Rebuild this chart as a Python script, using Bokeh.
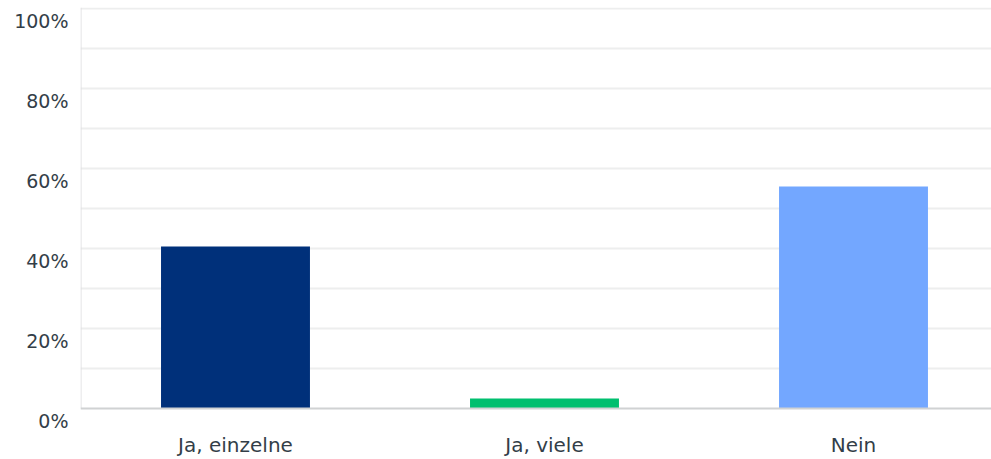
from bokeh.plotting import figure
from bokeh.models import Range1d, FixedTicker, ColumnDataSource, LinearAxis, Span
from bokeh.embed import file_html
from bokeh.resources import INLINE

categories = ["Ja, einzelne", "Ja, viele", "Nein"]
values = [40.5, 2.5, 55.5]
colors = ["#00307A", "#00BF6F", "#73A7FF"]
y_ticks = [0, 20, 40, 60, 80, 100]
y_tick_labels = ["0%", "20%", "40%", "60%", "80%", "100%"]
grid_ticks = [10, 20, 30, 40, 50, 60, 70, 80, 90, 100]

label_shift = 3  # tick labels sit slightly below their gridline

xpos = [i + 0.5 for i in range(len(categories))]
src = ColumnDataSource(dict(x=xpos, top=values, color=colors, cat=categories))

y0, y1 = -3.5, 100.25
x0 = -0.0016
x1 = x0 + 911 / 309.0

p = figure(width=991, height=459, output_backend="svg", toolbar_location=None,
           x_range=Range1d(x0, x1), y_range=Range1d(y0, y1),
           min_border_left=80, min_border_right=0, min_border_top=7, min_border_bottom=37)
p.outline_line_color = None
p.background_fill_color = "white"
p.border_fill_color = "white"
p.extra_y_ranges = {"lab": Range1d(y0 + label_shift, y1 + label_shift)}

text_color = "#333E48"
font = "DejaVu Sans"

p.xgrid.grid_line_color = None
p.ygrid.ticker = FixedTicker(ticks=grid_ticks)
p.ygrid.grid_line_color = "#EDEEEE"
p.ygrid.grid_line_width = 2

# baseline and value-axis line
p.add_layout(Span(location=0, dimension="width", line_color="#D0D2D3", line_width=2))
p.segment(x0=[0], y0=[0], x1=[0], y1=[y1], line_color="#DCDDDE", line_width=1)

p.vbar(x="x", top="top", bottom=0, width=0.482, fill_color="color", line_color=None, source=src)

p.xaxis.ticker = FixedTicker(ticks=xpos)
p.xaxis.major_label_overrides = {x: c for x, c in zip(xpos, categories)}
p.xaxis.major_tick_line_color = None
p.xaxis.major_tick_out = 0
p.xaxis.minor_tick_line_color = None
p.xaxis.axis_line_color = None
p.xaxis.major_label_standoff = 10
p.xaxis.major_label_text_font = font
p.xaxis.major_label_text_font_size = "20px"
p.xaxis.major_label_text_color = text_color

p.yaxis.visible = False

lab_axis = LinearAxis(y_range_name="lab", ticker=FixedTicker(ticks=y_ticks),
                      major_label_overrides={t: l for t, l in zip(y_ticks, y_tick_labels)},
                      major_tick_line_color=None, major_tick_out=0,
                      minor_tick_line_color=None, axis_line_color=None,
                      major_label_standoff=12,
                      major_label_text_font=font, major_label_text_font_size="19px",
                      major_label_text_color=text_color)
p.add_layout(lab_axis, "left")

open("out.html", "w").write(file_html(p, INLINE))
